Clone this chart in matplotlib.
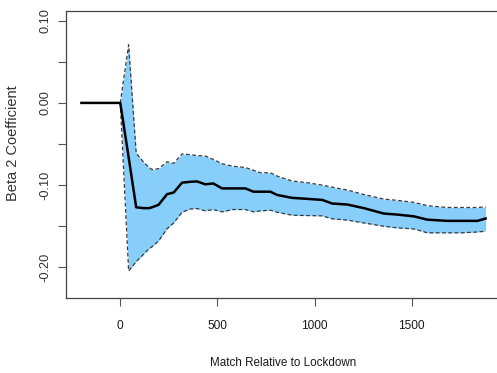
import matplotlib
matplotlib.use('Agg')

import numpy as np
import matplotlib.pyplot as plt

# matches relative to lockdown
match = [-200, 0, 43, 82, 120, 150, 163, 197, 241, 275, 318, 360, 395, 438, 479,
         524, 580, 644, 686, 722, 773, 808, 885, 962, 1040, 1091, 1169, 1254,
         1357, 1426, 1512, 1581, 1684, 1760, 1839, 1881]

beta2 = [0, 0, -0.066, -0.127, -0.128, -0.128, -0.127, -0.124, -0.111, -0.109,
         -0.097, -0.096, -0.0955, -0.099, -0.098, -0.104, -0.104, -0.104, -0.108,
         -0.108, -0.108, -0.112, -0.1155, -0.1167, -0.118, -0.1224, -0.1236,
         -0.128, -0.1346, -0.1358, -0.138, -0.142, -0.1435, -0.1435, -0.1435,
         -0.1406]

upper = [np.nan, 0, 0.0707, -0.061, -0.072, -0.079, -0.081, -0.080, -0.0716,
         -0.0736, -0.062, -0.063, -0.064, -0.0646, -0.0687, -0.074, -0.077,
         -0.0785, -0.082, -0.085, -0.085, -0.089, -0.095, -0.097, -0.100,
         -0.1025, -0.106, -0.1114, -0.117, -0.1185, -0.121, -0.125, -0.1272,
         -0.1272, -0.1272, -0.1264]

lower = [np.nan, 0, -0.2045, -0.193, -0.184, -0.177, -0.175, -0.168, -0.153,
         -0.146, -0.133, -0.129, -0.1285, -0.1313, -0.1297, -0.1325, -0.1297,
         -0.1297, -0.1325, -0.1313, -0.1305, -0.133, -0.1366, -0.137, -0.1374,
         -0.141, -0.1425, -0.146, -0.150, -0.152, -0.1533, -0.158, -0.158,
         -0.158, -0.157, -0.156]

xticks = [0, 500, 1000, 1500]
yticks = [0.10, 0.05, 0.00, -0.05, -0.10, -0.15, -0.20]
ytick_labels = ['0.10', '', '0.00', '', '-0.10', '', '-0.20']

font = ['Liberation Sans', 'DejaVu Sans']

fig = plt.figure(figsize=(4.97, 3.73), dpi=100)
ax = fig.add_axes([65.5 / 497, 75 / 373, 434.5 / 497, 287 / 373])

x = np.array(match, dtype=float)
lo = np.array(lower, dtype=float)
hi = np.array(upper, dtype=float)
ok = ~np.isnan(lo)

ax.fill_between(x[ok], lo[ok], hi[ok], color='#87cefa', linewidth=0)
ax.plot(x, hi, '--', color='#3a3a3a', linewidth=0.9, dashes=(3, 2))
ax.plot(x, lo, '--', color='#3a3a3a', linewidth=0.9, dashes=(3, 2))
ax.plot(x, beta2, color='black', linewidth=1.8)

ax.set_xlim(-282, 1955)
ax.set_ylim(-0.2373, 0.1118)

ax.set_xticks(xticks)
ax.set_xticklabels([str(t) for t in xticks], family=font, fontsize=8.6,
                   color='#1a1a1a')
ax.set_yticks(yticks)
ax.set_yticklabels(ytick_labels, family=font, fontsize=9.2, rotation=90,
                   va='center', color='#333333')

ax.tick_params(axis='x', length=6, width=0.8, color='#555555', pad=10)
ax.tick_params(axis='y', length=6, width=0.8, color='#555555', pad=4)

for side in ['left', 'bottom', 'top']:
    ax.spines[side].set_color('#444444')
    ax.spines[side].set_linewidth(0.9)
ax.spines['right'].set_visible(False)

ax.set_xlabel('Match Relative to Lockdown', family=font, fontsize=8.4,
              color='#1a1a1a')
ax.xaxis.set_label_coords(0.5, -0.205)
ax.set_ylabel('Beta 2 Coefficient', family=font, fontsize=10.5,
              color='#333333')
ax.yaxis.set_label_coords(-0.105, 0.54)

plt.savefig('out.png', dpi=100)
plt.close(fig)
